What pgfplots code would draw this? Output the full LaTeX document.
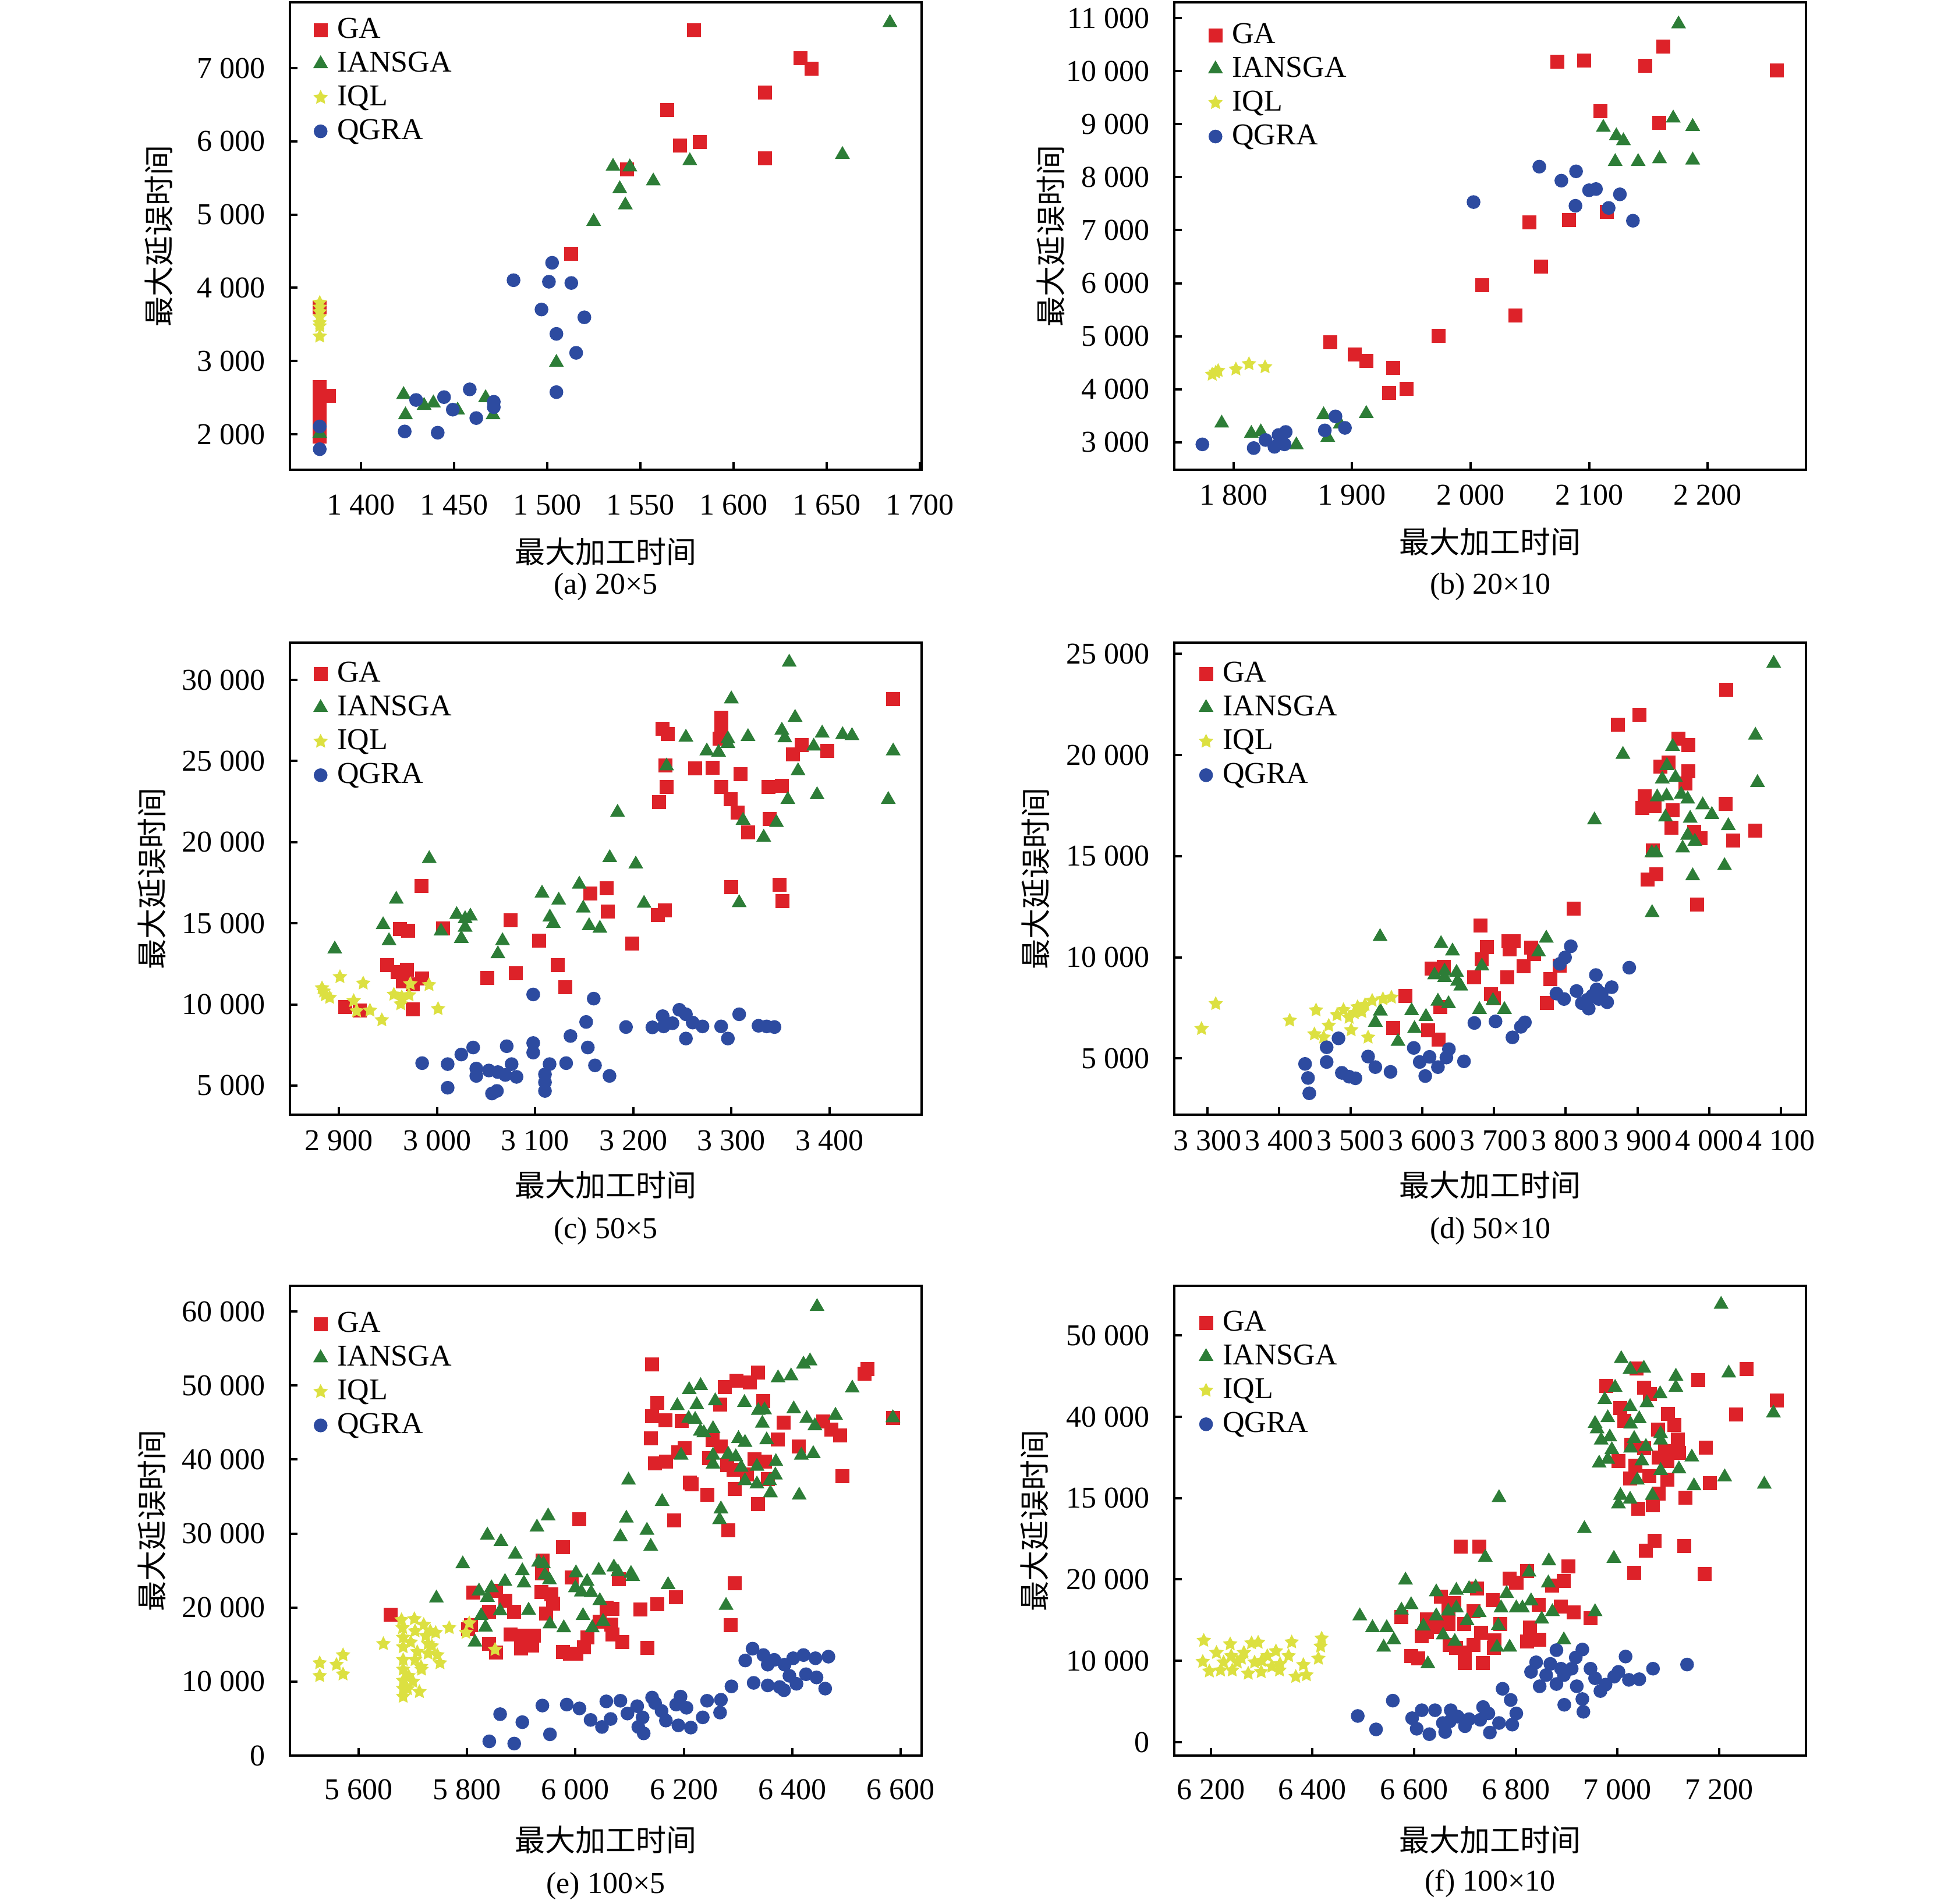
\documentclass[border=0pt]{standalone}
\usepackage{fontspec}
\setmainfont{Liberation Serif}
\newfontfamily\cjk{Noto Sans CJK SC}
\usepackage{pgfplots}
\pgfplotsset{compat=1.18}
\definecolor{cGA}{RGB}{221,34,41}
\definecolor{cIA}{RGB}{45,125,55}
\definecolor{cIQ}{RGB}{220,224,65}
\definecolor{cQG}{RGB}{45,75,160}
\pgfdeclareplotmark{fstar}{%
  \pgfpathmoveto{\pgfpointpolar{90}{\pgfplotmarksize}}%
  \pgfpathlineto{\pgfpointpolar{126}{0.5\pgfplotmarksize}}%
  \pgfpathlineto{\pgfpointpolar{162}{\pgfplotmarksize}}%
  \pgfpathlineto{\pgfpointpolar{198}{0.5\pgfplotmarksize}}%
  \pgfpathlineto{\pgfpointpolar{234}{\pgfplotmarksize}}%
  \pgfpathlineto{\pgfpointpolar{270}{0.5\pgfplotmarksize}}%
  \pgfpathlineto{\pgfpointpolar{306}{\pgfplotmarksize}}%
  \pgfpathlineto{\pgfpointpolar{342}{0.5\pgfplotmarksize}}%
  \pgfpathlineto{\pgfpointpolar{18}{\pgfplotmarksize}}%
  \pgfpathlineto{\pgfpointpolar{54}{0.5\pgfplotmarksize}}%
  \pgfpathclose\pgfusepathqfill}
\pgfplotsset{
 every axis title shift=0pt,
 panel/.style={
  scale only axis, width=271.25pt, anchor=south west, clip=false,
  scaled ticks=false,
  axis line style={line width=1pt, black},
  tick align=inside, tick pos=left, major tick length=3.3pt,
  every tick/.style={black, line width=1pt},
  xticklabel style={anchor=center, inner sep=0pt},
  yticklabel style={anchor=east, inner sep=0pt, xshift=-10.5pt},
  xlabel={\cjk 最大加工时间}, ylabel={\cjk 最大延误时间},
  xlabel style={anchor=center},
  ylabel style={anchor=center},
  title style={anchor=center},
  legend style={draw=none, fill=none, inner sep=0pt, anchor=north west, row sep=3.5pt,
    nodes={inner sep=0pt, text height=9pt, text depth=2pt},
    /tikz/every odd column/.append style={column sep=4pt}},
  legend cell align=left,
  legend image code/.code={\draw[##1] plot coordinates {(0pt,0pt)};},
 },
 sGA/.style={only marks, mark=square*, mark size=2.8pt, color=cGA},
 sIA/.style={only marks, mark=triangle*, mark size=3.3pt, color=cIA},
 sIQ/.style={only marks, mark=fstar, mark size=3.3pt, color=cIQ},
 sQG/.style={only marks, mark=*, mark size=2.75pt, color=cQG},
}
\begin{document}
\begin{tikzpicture}[font=\fontsize{13pt}{15.6pt}\selectfont]
\useasboundingbox (0,0) rectangle (836.5pt,-817.75pt);
% ---------------- (a)
\begin{axis}[panel, at={(124.5pt,-201.75pt)}, height=200.75pt,
  xmin=1362, xmax=1701, ymin=1515, ymax=7900,
  xtick={1400,1450,...,1700}, xticklabels={1 400,1 450,1 500,1 550,1 600,1 650,1 700},
  ytick={2000,3000,...,7000}, yticklabels={2 000,3 000,4 000,5 000,6 000,7 000},
  xticklabel style={yshift=-15pt},
  xlabel style={at={(axis description cs:0.5,-0.1754)}},
  ylabel style={at={(axis description cs:-0.2074,0.5)}},
  title={(a) 20×5}, title style={at={(axis description cs:0.5,-0.25)}},
  legend style={at={(axis description cs:0.0363,0.969)}}]
\addplot[sGA] coordinates {(1578.7,7515)(1636,7140)(1642,6991)(1617,6668)(1564.5,6425)(1571.4,5944)(1582,5991)(1617,5769)(1543,5620)(1513,4462)(1378,3733)(1378,2647)(1383,2528)(1378,2500)(1378,2392)(1378,2264)(1378,2180)(1378,2100)(1378,1966)};
\addplot[sIA] coordinates {(1684,7622)(1658.5,5820)(1576.6,5735)(1535.4,5658)(1544.4,5650)(1557,5458)(1539,5352)(1542,5130)(1525,4905)(1505,2980)(1423,2541)(1424,2264)(1434,2392)(1439,2426)(1452,2328)(1467,2498)(1471,2264)(1378,2009)};
\addplot[sIQ] coordinates {(1378,3797)(1378,3733)(1378,3670)(1378,3600)(1378,3520)(1378,3478)(1378,3337)};
\addplot[sQG] coordinates {(1502.7,4342)(1482,4104)(1501,4083)(1513,4066)(1497,3704)(1520,3597)(1505,3371)(1515.6,3112)(1505,2575)(1458.5,2613)(1444.7,2507)(1429.7,2468)(1449.4,2336)(1462,2221)(1471.4,2443)(1471.4,2370)(1423.6,2038)(1441.3,2021)(1378,2106)(1378,1796)};
\legend{GA,IANSGA,IQL,QGRA}
\end{axis}
% ---------------- (b)
\begin{axis}[panel, at={(504.25pt,-201.75pt)}, height=200.75pt,
  xmin=1750, xmax=2283, ymin=2480, ymax=11300,
  xtick={1800,1900,...,2200}, xticklabels={1 800,1 900,2 000,2 100,2 200},
  ytick={3000,4000,...,11000}, yticklabels={3 000,4 000,5 000,6 000,7 000,8 000,9 000,10 000,11 000},
  xticklabel style={yshift=-10.75pt},
  xlabel style={at={(axis description cs:0.5,-0.1542)}},
  ylabel style={at={(axis description cs:-0.1954,0.5)}},
  title={(b) 20×10}, title style={at={(axis description cs:0.5,-0.25)}},
  legend style={at={(axis description cs:0.0529,0.958)}}]
\addplot[sGA] coordinates {(2073,10181)(2096,10198)(2147.5,10099)(2162.6,10462)(2258.6,10010)(2109.7,9249)(2159.4,9026)(2115,7349)(2083,7191)(2049.6,7144)(2059.4,6318)(2009.7,5966)(2037.8,5386)(1973,5005)(1881.7,4887)(1902.5,4653)(1912,4530)(1934.5,4407)(1931.3,3932)(1946,4002)};
\addplot[sIA] coordinates {(2175.5,10890)(2171,9114)(2187.4,8955)(2112,8938)(2123,8780)(2129,8686)(2122,8293)(2141.4,8293)(2159.4,8346)(2187.4,8322)(1790,3358)(1815,3164)(1823,3193)(1853,2947)(1876,3516)(1879.5,3088)(1890,3340)(1912,3539)};
\addplot[sIQ] coordinates {(1782,4278)(1787,4348)(1802,4377)(1813,4477)(1826.6,4419)(1785,4319)};
\addplot[sQG] coordinates {(2058,8199)(2089,8111)(2076.6,7935)(2100,7754)(2105.8,7777)(2126,7677)(2088.5,7461)(2116.5,7420)(2137,7179)(2002.5,7531)(1773.7,2959)(1817,2889)(1827,3041)(1834.5,2912)(1838,3135)(1844,3193)(1843,2959)(1877,3223)(1886,3487)(1894,3270)};
\legend{GA,IANSGA,IQL,QGRA}
\end{axis}
% ---------------- (c)
\begin{axis}[panel, at={(124.5pt,-478.75pt)}, height=202.75pt,
  xmin=2850, xmax=3494, ymin=3200, ymax=32300,
  xtick={2900,3000,...,3400}, xticklabels={2 900,3 000,3 100,3 200,3 300,3 400},
  ytick={5000,10000,...,30000}, yticklabels={5 000,10 000,15 000,20 000,25 000,30 000},
  xticklabel style={yshift=-11pt},
  xlabel style={at={(axis description cs:0.5,-0.1492)}},
  ylabel style={at={(axis description cs:-0.2184,0.5)}},
  title={(c) 50×5}, title style={at={(axis description cs:0.5,-0.2466)}},
  legend style={at={(axis description cs:0.0363,0.9618)}}]
\addplot[sGA] coordinates {(3465,28805)(3230,26994)(3235,26660)(3290,27684)(3290,27152)(3288,26364)(3372,25970)(3363,25418)(3398,25635)(3233,24730)(3263,24552)(3281,24592)(3309.5,24198)(3234,23410)(3290,23410)(3338,23410)(3351.5,23489)(3226,22465)(3299,22662)(3306.5,21835)(3339,21441)(3317,20594)(3300,17247)(3349,17365)(3352,16361)(2984.4,17306)(3156,16853)(3173,17168)(3174,15731)(3225,15495)(3232,15810)(3075,15180)(3006,14687)(2962,14648)(2970.6,14550)(3104,13920)(3199,13762)(3123,12423)(2949,12423)(2960,11990)(2969,12128)(2965,11400)(2975,11242)(2985,11596)(3080,11931)(3051,11636)(3131,11065)(2906.5,9824)(2921,9627)(2975,9706)};
\addplot[sIA] coordinates {(3359,31089)(3300,28825)(3365,27684)(3351.5,26896)(3354.5,26423)(3392.6,26719)(3413.4,26620)(3423,26561)(3253.7,26463)(3296.5,26364)(3317,26502)(3296.5,26069)(3287,25536)(3275,25615)(3384,25911)(3465,25615)(3234,24690)(3368,24395)(3387.4,22918)(3357.6,22623)(3460,22623)(3184,21835)(3312,21343)(3346,21205)(3333,20299)(2992,18980)(3176,19039)(3202.6,18645)(3145,17405)(3107,16853)(3124,16420)(2958.4,16479)(3211,16223)(3308,16262)(3149,15928)(3115,15377)(3118.6,14983)(3155,14845)(3166,14687)(3020,15534)(3028.6,15278)(3034,15436)(3028.6,14746)(3004,14510)(3024.7,14057)(2945,14904)(2951,13920)(3066.7,13920)(3062,13112)(2895.7,13408)};
\addplot[sIQ] coordinates {(2884.4,10809)(2886,10572)(2882.7,11005)(2901,11695)(2924.7,11300)(2956,10612)(2964,10454)(2963,10021)(2971.4,10572)(2972.7,11261)(2991.8,11202)(2915,10218)(2918,9588)(2931.6,9627)(2943.7,9036)(3001,9726)(2890.5,10415)};
\addplot[sQG] coordinates {(3308,9391)(3247,9667)(3253.7,9391)(3260.6,8879)(3270.6,8643)(3230,9273)(3231,8643)(3240,8840)(3219.5,8584)(3192.6,8603)(3289.6,8643)(3253.7,7895)(3296.5,7895)(3327.7,8682)(3336,8643)(3344,8603)(3098,10612)(3159.7,10356)(3152,8918)(3136,8052)(3153.7,7343)(3098,7619)(3098,7028)(3071,7422)(3036.8,7343)(3024.7,6910)(2984.8,6378)(3010.8,6319)(3040,6044)(3040,5591)(3052.8,5925)(3062,5827)(3069.6,5650)(3076,6319)(3081,5532)(3114.7,6319)(3110,5689)(3110,5197)(3110,4665)(3131.6,6378)(3161,6240)(3175.8,5591)(3010.8,4862)(3056,4508)(3061,4665)};
\legend{GA,IANSGA,IQL,QGRA}
\end{axis}
% ---------------- (d)
\begin{axis}[panel, at={(504.25pt,-478.75pt)}, height=202.75pt,
  xmin=3254, xmax=4135, ymin=2220, ymax=25555,
  xtick={3300,3400,...,4100}, xticklabels={3 300,3 400,3 500,3 600,3 700,3 800,3 900,4 000,4 100},
  ytick={5000,10000,...,25000}, yticklabels={5 000,10 000,15 000,20 000,25 000},
  xticklabel style={yshift=-11pt},
  xlabel style={at={(axis description cs:0.5,-0.1492)}},
  ylabel style={at={(axis description cs:-0.2194,0.5)}},
  title={(d) 50×10}, title style={at={(axis description cs:0.5,-0.2466)}},
  legend style={at={(axis description cs:0.038,0.9618)}}]
\addplot[sGA] coordinates {(4024,23233)(3903,22001)(3873,21495)(3957,20816)(3971,20500)(3932,19425)(3943.5,19631)(3970.6,19188)(3967,18604)(3910,17962)(3907,17385)(3924,17466)(3949,17261)(4023,17577)(3947.6,16392)(3979,16202)(3987.7,15886)(4033.8,15760)(4064.5,16265)(3921.6,15286)(3926.4,14101)(3914,13832)(3983,12600)(3810.6,12394)(3680.8,11573)(3689.6,10498)(3720,10783)(3727,10783)(3722,10388)(3751.6,10467)(3756,10151)(3683,9914)(3741,9566)(3612.6,9440)(3630.3,9519)(3672.5,8997)(3718.5,8997)(3778.7,8918)(3791.7,9598)(3696,8176)(3700,7986)(3576,8097)(3624.7,7544)(3774,7733)(3559,6501)(3607.6,6406)(3623,5932)};
\addplot[sIA] coordinates {(4090,24529)(4064.5,20974)(3949,20421)(3879.7,20026)(3941,19473)(3934.6,18809)(3953,18888)(4067.4,18635)(3927.5,17924)(3940.6,17972)(3961,18051)(3970,17814)(3991,17529)(4003.7,17055)(3939,16929)(3973.5,16866)(4026.7,16502)(3840,16787)(3970,16028)(3980,15728)(3963,15396)(3920,15159)(3926,15159)(4021.4,14527)(3977,14022)(3920.4,12205)(3541,11020)(3626,10672)(3642,10309)(3772.8,10941)(3762,10261)(3683,9566)(3617,9124)(3631,9313)(3631,8997)(3647.7,9250)(3649,8808)(3653.6,8571)(3621.7,7828)(3636.5,7702)(3698.5,7860)(3714.4,7417)(3679.6,7417)(3585,7354)(3605,7070)(3541.4,7338)(3534.4,6785)(3589,6469)(3566,5837)};
\addplot[sIQ] coordinates {(3311.8,7702)(3292,6469)(3415,6880)(3451.7,7386)(3481,7149)(3497.8,7022)(3509.6,7544)(3530,7860)(3545,7939)(3556.8,8018)(3515.5,7307)(3500.7,6406)(3524.3,6043)(3469.4,6627)(3449.4,6201)(3462.3,6043)(3490,7400)(3520,7650)(3505,7250)};
\addplot[sQG] coordinates {(3807,10546)(3799,9993)(3791.7,9677)(3888.5,9487)(3842,9124)(3864,8523)(3815,8334)(3787,8207)(3797.6,7939)(3837,8097)(3846,7939)(3857.7,7781)(3822.4,7733)(3832,7465)(3843,8413)(3850,8200)(3830,7900)(3672.5,6754)(3702,6833)(3743,6785)(3737.4,6564)(3725.6,6043)(3483,5995)(3466.5,5553)(3466.5,4826)(3436.4,4731)(3440.5,4036)(3442.3,3278)(3487.7,4289)(3497.8,4099)(3506.6,4020)(3524.3,5095)(3534.4,4573)(3555.6,4336)(3588,5521)(3596.3,4826)(3604,4131)(3610,5079)(3621.7,4573)(3633.5,5047)(3637,5458)(3658,4858)};
\legend{GA,IANSGA,IQL,QGRA}
\end{axis}
% ---------------- (e)
\begin{axis}[panel, at={(124.5pt,-754pt)}, height=201.75pt,
  xmin=5473, xmax=6639, ymin=0, ymax=63465,
  xtick={5600,5800,...,6600}, xticklabels={5 600,5 800,6 000,6 200,6 400,6 600},
  ytick={0,10000,...,60000}, yticklabels={0,10 000,20 000,30 000,40 000,50 000,60 000},
  xticklabel style={yshift=-14.5pt},
  xlabel style={at={(axis description cs:0.5,-0.1797)}},
  ylabel style={at={(axis description cs:-0.2184,0.5)}},
  title={(e) 100×5}, title style={at={(axis description cs:0.5,-0.2776)}},
  legend style={at={(axis description cs:0.0363,0.9467)}}]
\addplot[sGA] coordinates {(6141.5,52878)(6539,52230)(6534,51583)(6337,51712)(6297,50633)(6322,50374)(6276,49769)(6151,47696)(6347,47912)(6267,47394)(6141.5,45840)(6166.6,45322)(6196,45192)(6586,45624)(6384,44976)(6457,45106)(6472.5,44027)(6488,43293)(6374,42732)(6139,42861)(6253,42602)(6268.6,41782)(6202,41523)(6412,41739)(6190,41005)(6247,40228)(6147,39494)(6167,39710)(6331,40012)(6350,39710)(6280,39278)(6292,38630)(6317,37983)(6355,37335)(6493,37766)(6211,36903)(6215,36687)(6293.5,36038)(6243,35261)(6337,33966)(6182,31807)(6282,30425)(6007.5,31936)(5977,28136)(5939,26322)(5938,24595)(5993,24034)(6080,23818)(6294,23300)(5955,21789)(5959,20493)(5937,22091)(5871,20925)(5812,22004)(5853,22220)(5841,19413)(5887,19413)(5945.6,19197)(6151,20450)(6186,21357)(6120,19715)(6058,19974)(6068.6,19845)(6045,18118)(6066,17686)(6068.6,16391)(6087,15311)(6021.6,15959)(6015.5,14664)(6002,13800)(5977,14016)(5990,13800)(5904,16175)(5923.6,16175)(5920,14880)(5900,14448)(5880.6,16391)(5841,15095)(5853,13886)(5807.5,17600)(6133,14534)(6286,17600)(5659,19068)(5802,17038)};
\addplot[sIA] coordinates {(6446,60649)(6433,53310)(6421,52878)(6398,51280)(6374,51021)(6511,49640)(6231,49985)(6210,49424)(6258,47912)(6312,47696)(6188,47265)(6224,47394)(6337.5,46617)(6349,46703)(6403,46833)(6480,45969)(6427,45537)(6586,45624)(6209,45537)(6221,45408)(6345,44890)(6442,44544)(6230.6,43810)(6254,44155)(6237,43595)(6301,42818)(6313,42300)(6353,42645)(6195,40574)(6254,40574)(6282,40703)(6296,40358)(6254,39365)(6306,38933)(6335,39062)(6370,39710)(6417,40574)(6439,40790)(6369,37896)(6313,37119)(6335,36687)(6358.5,37119)(6360,35477)(6413,35175)(6098,37205)(6268.6,33318)(6266,31850)(6160,34311)(6094,32065)(5949.6,32368)(5929,30857)(5837.5,29777)(5862.5,28914)(5889,27186)(5792,25890)(5902,24958)(5932,26106)(5941,25890)(5943.6,24379)(5952,23731)(5905,23300)(5870,23516)(5845,22652)(5822,22220)(5837.5,21357)(6001,24681)(6043,25027)(6071,25459)(6078.5,24811)(6102.6,24595)(6105.8,24163)(6132,30425)(6083,29561)(6139,28266)(6000,22652)(6021.6,23516)(6011,22091)(6029,22004)(6045,20925)(6171,23084)(5913.6,19629)(5861,19543)(5826,18895)(5834,17340)(5814.6,15311)(5953,17772)(5978.5,17254)(6014,18895)(6031,17254)(6051,18118)(6278,20277)(5743.4,21270)};
\addplot[sIQ] coordinates {(5528,12504)(5528,10777)(5559,12288)(5571,13584)(5571,10993)(5645.5,15095)(5679,18334)(5681,17254)(5682,15959)(5682,14664)(5682,12936)(5682,11641)(5682,10130)(5682,9050)(5682,7970)(5692,10777)(5702.7,18463)(5704,16822)(5696,15311)(5704,12936)(5712,8618)(5720,17686)(5724,16175)(5728,15095)(5732,16822)(5742,16607)(5745,13584)(5750,12504)(5716,11641)(5708,14016)(5728,13800)(5767,17254)(5798,16607)(5804,17902)(5851.6,14318)(5700,10000)(5690,9000)(5715,12000)(5735,14800)};
\addplot[sQG] coordinates {(6327,14448)(6313.5,12850)(6347,13584)(6355,12288)(6367,12936)(6386,12288)(6402,13152)(6421,13584)(6443,13152)(6467,13368)(6329,9827)(6355,9482)(6377,9266)(6385,8834)(6408,9698)(6425.6,10993)(6445,10561)(6461,9050)(6395,10777)(6288,9352)(6268.6,7539)(6267,5812)(6243,7409)(6235,5164)(6213,3782)(6194,7970)(6186,6891)(6205,6459)(6190,4085)(6167,4732)(6159,6027)(6141.5,7841)(6147,7107)(6114,6675)(6124,5164)(6126,3005)(6116,3868)(6096,5682)(6083,7409)(6057,7323)(6065,4948)(6049,3868)(6028,4818)(6007.5,6373)(5984,6891)(5939,6761)(5953,2875)(5902,4516)(5861,5596)(5841,1925)(5887,1623)};
\legend{GA,IANSGA,IQL,QGRA}
\end{axis}
% ---------------- (f)
\begin{axis}[panel, at={(504.25pt,-754pt)}, height=201.75pt,
  xmin=6128, xmax=7371, ymin=-1650, ymax=56100,
  xtick={6200,6400,...,7200}, xticklabels={6 200,6 400,6 600,6 800,7 000,7 200},
  ytick={0,10000,...,50000}, yticklabels={0,10 000,20 000,15 000,40 000,50 000},
  xticklabel style={yshift=-14.5pt},
  xlabel style={at={(axis description cs:0.5,-0.1797)}},
  ylabel style={at={(axis description cs:-0.2212,0.5)}},
  title={(f) 100×10}, title style={at={(axis description cs:0.5,-0.2726)}},
  legend style={at={(axis description cs:0.038,0.9492)}}]
\addplot[sGA] coordinates {(7254,45840)(7159,44544)(7314,42030)(7234,40262)(7037.6,45958)(6978,43758)(7052,43601)(7064,42815)(7006,41048)(7014,39476)(7100,40340)(7112,38965)(7079.5,38416)(7118.6,37237)(7174,36216)(7027,36530)(7052,36138)(7094,35745)(7121,35548)(7081,34959)(7002,34566)(7035.6,33977)(7098,34566)(7025.5,32406)(7063,32681)(7098,32288)(7181.6,31817)(7081,30560)(7134,30049)(7070,29146)(7041,28674)(7073,24746)(7056,23568)(7131,24079)(7033.5,20818)(7171.5,20700)(6692,24039)(6728,24039)(6904,21604)(6822,21015)(6788,20111)(6801,19640)(6894.6,19836)(6872,19247)(6653,17872)(6724,18855)(6679.5,17087)(6755,17480)(6845,16890)(6889,16694)(6914,15987)(6947,15241)(6575,15398)(6625.6,15123)(6643.5,14534)(6667,14534)(6698,14534)(6717,16105)(6667,16183)(6625.6,13552)(6643.5,14141)(6731.5,13434)(6769,14534)(6827.5,14063)(6757.6,12492)(6846,12570)(6822,12373)(6670,11980)(6683,11588)(6717,11980)(6700,10998)(6757,11588)(6594,10606)(6608,10291)(6700,9741)(6735,9741)(6615,13041)};
\addplot[sIA] coordinates {(7204,53814)(7007.5,47136)(7025,45840)(7052,45958)(7219,45369)(7115,44976)(7115,43601)(6995.4,43601)(7084,42815)(6975,42108)(7058,41715)(7025,41244)(7307,40458)(6981,39869)(7043,39751)(6956,39162)(7026,39083)(6960,38494)(6985,37512)(6968,37119)(7033,37316)(7085,37905)(7085,37119)(6989,35941)(7026,36138)(7056,36334)(7146.4,35038)(6964,34292)(6981,34763)(7048,34566)(7085,33389)(7121,33585)(7211,32603)(7289,31699)(7039,32210)(7006,30324)(7150.6,31503)(7068.6,30324)(7025,29853)(7002,29264)(6767,30049)(6935,26239)(6993,22586)(6740,22704)(6865,22272)(6826,20897)(6864,19562)(6583,19915)(6643.5,18461)(6683,18658)(6708,18855)(6721,19051)(6782,18265)(6771,16497)(6801,16497)(6813,16497)(6830,17362)(6851,15123)(6872,16026)(6956,16026)(6594,16890)(6575,16222)(6667,16105)(6683,16497)(6643.5,15516)(6704,14926)(6728,15908)(6765.6,14337)(6493,15516)(6518,14063)(6546,14063)(6560,12570)(6540,11666)(6618,14259)(6657,13159)(6680,12373)(6763,11666)(6788,11666)(6894.6,12570)(6627,9624)};
\addplot[sIQ] coordinates {(6186,12491)(6184,9899)(6197,8720)(6219,8838)(6238,12059)(6240,10606)(6252,9820)(6242,8838)(6265,10998)(6273.5,8445)(6280,12177)(6293,12256)(6286,9820)(6299,8642)(6311,10606)(6328,11195)(6335,8838)(6336,9624)(6353,10606)(6359,12295)(6367,8052)(6382,9506)(6388,8249)(6411.6,10291)(6416,11784)(6418,12766)(6211,10998)(6225,9820)(6260,10300)(6300,10000)(6320,9300)};
\addplot[sQG] coordinates {(7137,9545)(7070,9034)(7043,7738)(7016,10527)(7022.6,7660)(7002,8642)(6993.6,8052)(6966.5,6285)(6976.6,7070)(6947,9034)(6956,7856)(6931,11391)(6918,10409)(6910,9034)(6920,6874)(6894.6,8249)(6880,11313)(6868,9624)(6859.8,8249)(6840,9820)(6830,8642)(6847,6874)(6880,7149)(6889,9034)(6931,5303)(6933,3732)(6895.4,4596)(6774,6560)(6790,5185)(6801,3535)(6793,2160)(6767,2357)(6749,1178)(6735.6,4321)(6730,2750)(6746,3535)(6700,1964)(6685.6,3142)(6672,3928)(6661,1257)(6656.5,2357)(6641,3928)(6630,982)(6615,3928)(6605,1650)(6596,2946)(6558,5106)(6525,1571)(6489,3221)(6670,2553)(6708,2828)};
\legend{GA,IANSGA,IQL,QGRA}
\end{axis}
\end{tikzpicture}
\end{document}
